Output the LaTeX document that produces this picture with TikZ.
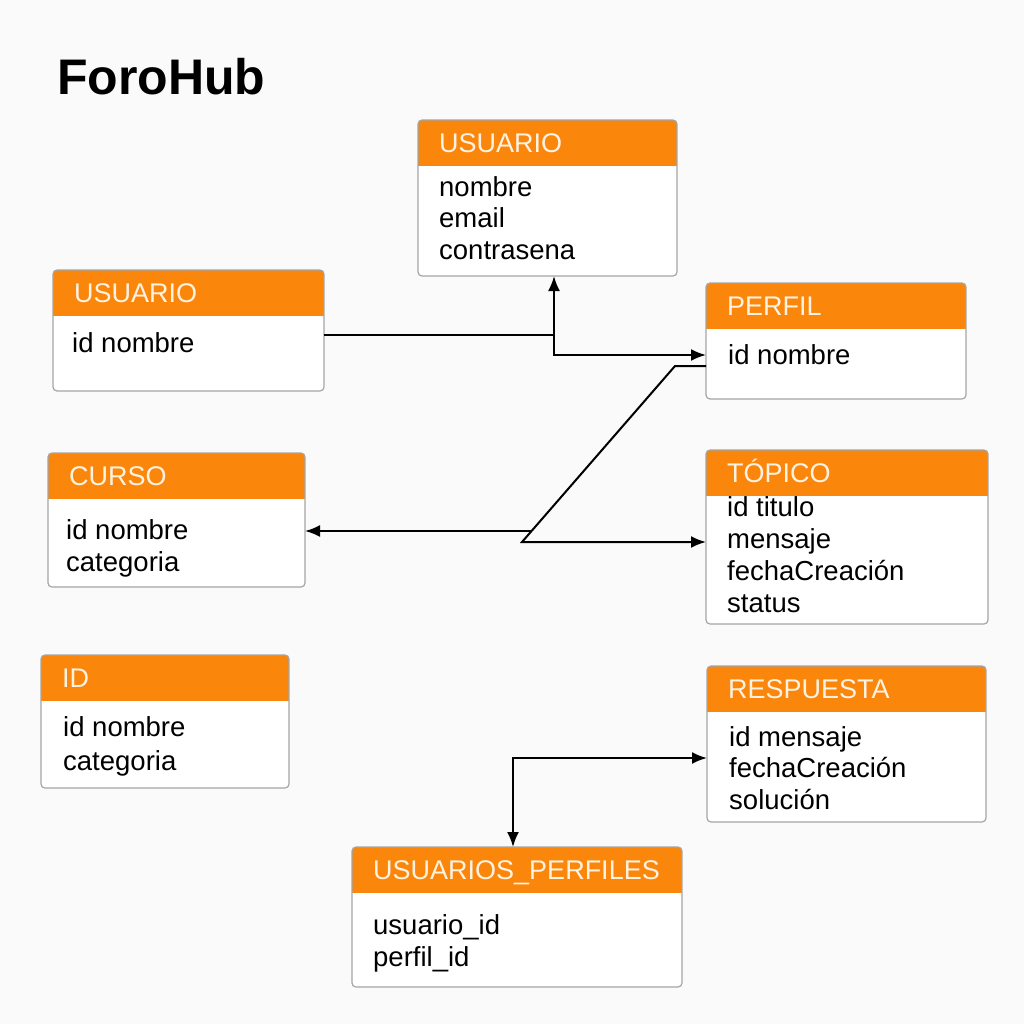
\documentclass[tikz,border=0pt]{standalone}
\usepackage{fontspec}
\setmainfont{Liberation Sans}
\usetikzlibrary{calc,arrows.meta}
\definecolor{hdrorange}{RGB}{250,134,12}
\definecolor{hdrtext}{RGB}{255,242,224}
\definecolor{boxline}{RGB}{165,165,165}
\definecolor{bgc}{RGB}{250,250,250}
\tikzset{
  tbl/.style={rectangle, inner sep=0, outer sep=0, draw=none},
  boxborder/.style={draw=boxline, line width=1.2pt, rounded corners=4pt},
  htext/.style={font=\fontsize{27}{30}\selectfont, text=hdrtext, inner sep=0, anchor=base west},
  btext/.style={font=\fontsize{27.5}{32}\selectfont, text=black, inner sep=0, anchor=north west, align=left},
  conn/.style={draw=black, line width=2pt},
  tip/.tip={Latex[length=15pt,width=12pt]}
}
\newcommand\ertable[6]{%
  \node[tbl, minimum width=#4pt, minimum height=#5pt, anchor=north west] (#1) at (#2,#3) {};
  \begin{scope}
    \clip[rounded corners=4pt] (#1.north west) rectangle (#1.south east);
    \fill[white] (#1.north west) rectangle (#1.south east);
    \fill[hdrorange] (#1.north west) rectangle ($(#1.north east)+(0,46)$);
  \end{scope}
  \draw[boxborder] (#1.north west) rectangle (#1.south east);
  \node[htext] (#1-t) at ($(#1.north west)+(21,32.5)$) {#6};
}
\begin{document}
\begin{tikzpicture}[x=1pt,y=-1pt]
\fill[bgc] (0,0) rectangle (1024,1024);
\useasboundingbox (0,0) rectangle (1024,1024);

\node[font=\bfseries\fontsize{50}{56}\selectfont, inner sep=0, anchor=base west] (title) at (57,95) {ForoHub};

\ertable{uT}{418}{120}{259}{156}{USUARIO}
\ertable{uL}{53}{270}{271}{121}{USUARIO}
\ertable{pf}{706}{283}{260}{116}{PERFIL}
\ertable{cu}{48}{453}{257}{134}{CURSO}
\ertable{tp}{706}{450}{282}{174}{TÓPICO}
\ertable{idt}{41}{655}{248}{133}{ID}
\ertable{rs}{707}{666}{279}{156}{RESPUESTA}
\ertable{up}{352}{847}{330}{140}{USUARIOS\_PERFILES}

\node[btext, font=\fontsize{27.5}{31.5}\selectfont] (uT-b) at (439,176) {nombre\\email\\contrasena};
\node[btext] (uL-b) at (72,332) {id nombre};
\node[btext] (pf-b) at (728,344) {id nombre};
\node[btext] (cu-b) at (66,519) {id nombre\\categoria};
\node[btext] (tp-b) at (727,496) {id titulo\\mensaje\\fechaCreación\\status};
\node[btext, font=\fontsize{27.5}{34}\selectfont] (idt-b) at (63,716) {id nombre\\categoria};
\node[btext, font=\fontsize{27.5}{31.5}\selectfont] (rs-b) at (729,726) {id mensaje\\fechaCreación\\solución};
\node[btext] (up-b) at (373,914) {usuario\_id\\perfil\_id};

% connectors
\coordinate (j1) at (554,335);
\coordinate (j2) at (554,355);
\draw[conn, -{tip}] (uL.east |- j1) -- (j1) -- (uT.south -| j1);
\draw[conn, -{tip}] (j1) -- (j2) -- (pf.west |- j2);

\coordinate (j3) at (675,366);
\coordinate (j4) at (522,542);
\coordinate (j5) at ($(j3)!0.9375!(j4)$);
\draw[conn, -{tip}] (pf.west |- j3) -- (j3) -- (j4) -- (tp.west |- j4);
\draw[conn, -{tip}] (j5) -- (cu.east |- j5);

\coordinate (j6) at (513,758);
\draw[conn, {tip}-{tip}] (rs.west |- j6) -- (j6) -- (up.north -| j6);
\end{tikzpicture}
\end{document}
